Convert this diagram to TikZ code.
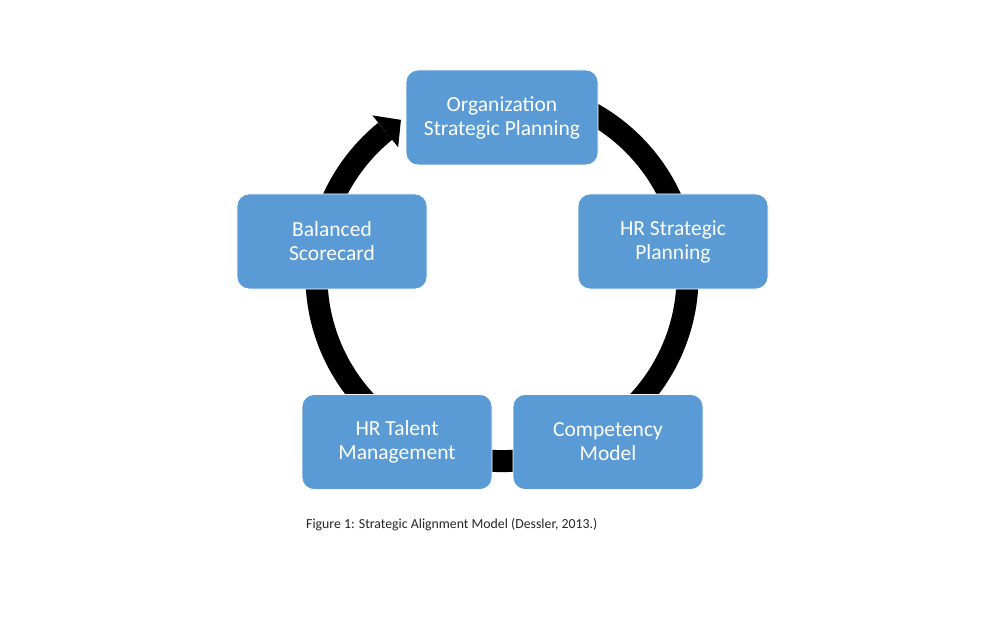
\documentclass[tikz,border=0pt]{standalone}
\usepackage{fontspec}
\setmainfont{Carlito}
\definecolor{boxblue}{HTML}{5B9BD5}
\definecolor{captiongray}{HTML}{262626}
\begin{document}
\begin{tikzpicture}[x=1pt,y=1pt,
  stagebox/.style={draw=white, line width=0.8pt, fill=boxblue, rounded corners=12pt,
    text=white, align=center, minimum width=190pt, minimum height=95pt, inner sep=0pt,
    font=\fontsize{21.5}{24}\selectfont},
  ring/.style={line width=22pt, draw=black},
  caption/.style={anchor=base west, inner sep=0pt, text=captiongray, font=\fontsize{13.8}{16}\selectfont}]
\useasboundingbox[fill=white] (0,0) rectangle (1008,630);
\coordinate (c) at (502,354.5);
% cycle ring
\draw[ring] ([shift={(90:185.6)}]c) arc[start angle=90, end angle=-231, radius=185.6];
\fill[black] ([shift={(129:206)}]c) -- ([shift={(123:185.6)}]c) -- ([shift={(129:165)}]c) -- cycle;
% stages
\node[stagebox, minimum width=192pt] (org) at (502,512.5) {Organization\\Strategic Planning};
\node[stagebox] (hrs) at (673,388.5) {HR Strategic\\Planning};
\node[stagebox] (comp) at (608,188) {Competency\\Model};
\node[stagebox] (talent) at (397,188) {HR Talent\\Management};
\node[stagebox] (bsc) at (332,388.5) {Balanced\\Scorecard};
% caption
\node[caption] (cap) at (306,102) {Figure 1: Strategic Alignment Model (Dessler, 2013.)};
\end{tikzpicture}
\end{document}
